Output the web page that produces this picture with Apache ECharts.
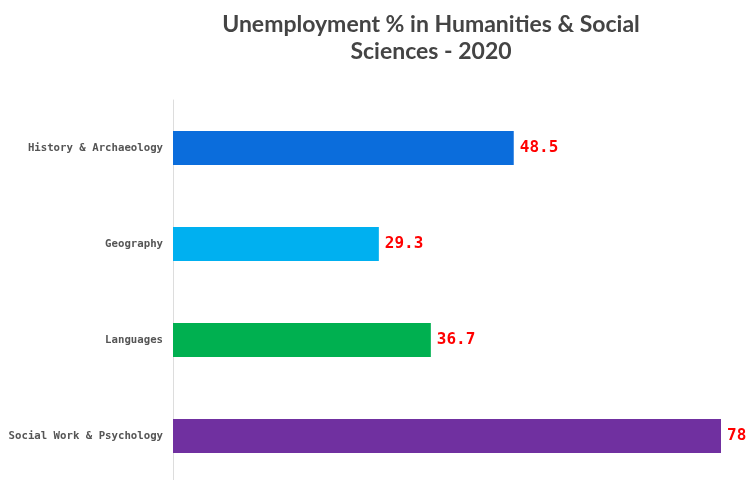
<!DOCTYPE html>
<html>
<head>
<meta charset="utf-8">
<script src="https://cdn.jsdelivr.net/npm/echarts@6/dist/echarts.min.js"></script>
<style>
  html, body { margin: 0; padding: 0; background: #fff; overflow: hidden; }
  #main { width: 748px; height: 484px; }
</style>
</head>
<body>
<div id="main"></div>
<script>
var categories = ['History & Archaeology', 'Geography', 'Languages', 'Social Work & Psychology'];
var values = [48.5, 29.3, 36.7, 78];
var colors = ['#0b6ddc', '#00b0f0', '#00b050', '#7030a0'];

var chart = echarts.init(document.getElementById('main'));

var option = {
  title: {
    text: 'Unemployment % in Humanities & Social\nSciences - 2020',
    left: 426,
    top: 6,
    textAlign: 'center',
    textStyle: {
      color: '#444',
      fontFamily: 'Lato',
      fontWeight: 'bold',
      fontSize: 23,
      lineHeight: 27
    }
  },
  grid: {
    left: 173,
    top: 100,
    right: 27,
    bottom: 0,
    containLabel: false
  },
  xAxis: {
    type: 'value',
    min: 0,
    max: 78,
    show: false
  },
  yAxis: {
    type: 'category',
    data: categories,
    inverse: true,
    axisLine: { show: true, lineStyle: { color: '#dddddd' } },
    axisTick: { show: false },
    axisLabel: {
      color: '#555',
      fontFamily: 'DejaVu Sans Mono',
      fontWeight: 'bold',
      fontSize: 10.7,
      margin: 10
    }
  },
  series: [{
    type: 'bar',
    barWidth: 34,
    data: values.map(function (v, i) {
      return { value: v, itemStyle: { color: colors[i] } };
    }),
    label: {
      show: true,
      position: 'right',
      distance: 6,
      color: '#ff0000',
      fontFamily: 'DejaVu Sans Mono',
      fontWeight: 'bold',
      fontSize: 16
    },
    animation: false
  }]
};

chart.setOption(option);
</script>
</body>
</html>
